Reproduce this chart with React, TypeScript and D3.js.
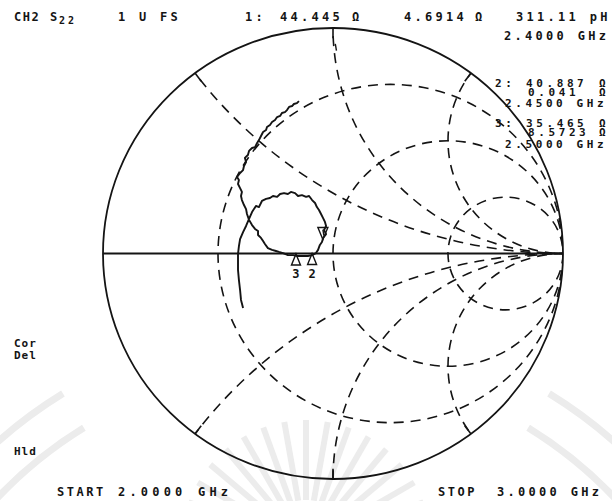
import React, { useEffect, useRef } from "react";
import * as d3 from "d3";

// grid of the smith chart (normalised)
const resistanceCircles = [1 / 3, 1, 3];
const reactanceArcs = [0.5, 1, 2, -0.5, -1, -2];

// S22 trace, reflection coefficient (2 GHz -> 3 GHz)
const traceRe = [
  -0.391, -0.4, -0.404, -0.409, -0.413, -0.413, -0.413, -0.409, -0.404, -0.391, -0.378, -0.365,
  -0.352, -0.335, -0.322, -0.309, -0.291, -0.274, -0.261, -0.243, -0.23, -0.213, -0.196, -0.183,
  -0.165, -0.152, -0.135, -0.117, -0.104, -0.091, -0.078, -0.07, -0.061, -0.052, -0.043, -0.035,
  -0.03, -0.039, -0.03, -0.043, -0.048, -0.057, -0.065, -0.074, -0.091, -0.109, -0.13, -0.152,
  -0.174, -0.196, -0.217, -0.235, -0.248, -0.265, -0.283, -0.296, -0.304, -0.313, -0.326, -0.326,
  -0.339, -0.352, -0.365,
  -0.374, -0.378, -0.387, -0.396, -0.4, -0.396, -0.404, -0.413, -0.409, -0.417, -0.404, -0.391,
  -0.387, -0.378, -0.383, -0.37, -0.365, -0.352, -0.339, -0.33, -0.322, -0.313, -0.304, -0.291,
  -0.287, -0.274, -0.265, -0.252, -0.243, -0.23, -0.222, -0.209, -0.2, -0.191, -0.178, -0.17,
  -0.157, -0.148,
];
const traceIm = [
  -0.242, -0.206, -0.162, -0.118, -0.073, -0.038, -0.002, 0.033, 0.064, 0.095, 0.122, 0.153,
  0.184, 0.211, 0.206, 0.233, 0.242, 0.246, 0.255, 0.251, 0.264, 0.268, 0.264, 0.273,
  0.268, 0.255, 0.259, 0.251, 0.255, 0.237, 0.224, 0.206, 0.193, 0.175, 0.157, 0.14,
  0.122, 0.104, 0.086, 0.069, 0.051, 0.038, 0.016, 0.002, -0.007, -0.011, -0.011, -0.011,
  -0.007, -0.007, 0.002, 0.007, 0.011, 0.016, 0.024, 0.042, 0.055, 0.069, 0.082, 0.1,
  0.109, 0.126, 0.149,
  0.175, 0.197, 0.215, 0.237, 0.255, 0.273, 0.29, 0.308, 0.326, 0.339, 0.357, 0.37,
  0.388, 0.406, 0.424, 0.437, 0.455, 0.468, 0.472, 0.49, 0.503, 0.521, 0.539, 0.548,
  0.561, 0.57, 0.583, 0.592, 0.605, 0.61, 0.623, 0.627, 0.636, 0.65, 0.654, 0.663,
  0.667, 0.676,
];

const markerNames = ["1", "2", "3"];
const markerRe = [-0.044, -0.091, -0.161];
const markerIm = [0.062, 0.0, -0.002];

const App: React.FC = () => {
  const svgRef: any = useRef();

  useEffect(() => {
    const svg = d3.select(svgRef.current);
    svg.selectAll("*").remove();

    const x = d3.scaleLinear().domain([-1, 1]).range([103, 563]);
    const y = d3.scaleLinear().domain([-1, 1]).range([479, 28]);
    const rx = (r: number) => x(r) - x(0);
    const ry = (r: number) => y(0) - y(r);
    const ink = "#141414";

    svg.append("rect").attr("width", 612).attr("height", 501).attr("fill", "#fff");

    // faint watermark behind everything
    const wm = svg.append("g").attr("fill", "none").attr("stroke", "#ececec");
    [465, 425].forEach((R) => {
      [[-1.1, -0.55], [0.55, 1.1]].forEach(([a0, a1]) => {
        wm.append("path")
          .attr("d", d3.arc()({ innerRadius: R, outerRadius: R, startAngle: a0, endAngle: a1 }) as any)
          .attr("transform", "translate(306,790)")
          .attr("stroke-width", 7);
      });
    });
    d3.range(-70, 71, 10).forEach((a) => {
      const t = (a * Math.PI) / 180;
      wm.append("line")
        .attr("x1", 306 + Math.sin(t) * 45)
        .attr("y1", 545 - Math.cos(t) * 45)
        .attr("x2", 306 + Math.sin(t) * 125)
        .attr("y2", 545 - Math.cos(t) * 125)
        .attr("stroke-width", 6);
    });

    svg.append("clipPath")
      .attr("id", "smith-clip")
      .append("ellipse")
      .attr("cx", x(0))
      .attr("cy", y(0))
      .attr("rx", rx(1))
      .attr("ry", ry(1));

    const grid = svg.append("g")
      .attr("clip-path", "url(#smith-clip)")
      .attr("fill", "none")
      .attr("stroke", ink)
      .attr("stroke-width", 1.6)
      .attr("stroke-dasharray", "10,7");

    resistanceCircles.forEach((r) => {
      grid.append("ellipse")
        .attr("cx", x(r / (1 + r)))
        .attr("cy", y(0))
        .attr("rx", rx(1 / (1 + r)))
        .attr("ry", ry(1 / (1 + r)));
    });

    reactanceArcs.forEach((v) => {
      grid.append("ellipse")
        .attr("cx", x(1))
        .attr("cy", y(1 / v))
        .attr("rx", rx(1 / Math.abs(v)))
        .attr("ry", ry(1 / Math.abs(v)));
    });

    // outer circle + real axis
    svg.append("ellipse")
      .attr("cx", x(0))
      .attr("cy", y(0))
      .attr("rx", rx(1))
      .attr("ry", ry(1))
      .attr("fill", "none")
      .attr("stroke", ink)
      .attr("stroke-width", 1.8);

    svg.append("line")
      .attr("x1", x(-1))
      .attr("x2", x(1))
      .attr("y1", y(0))
      .attr("y2", y(0))
      .attr("stroke", ink)
      .attr("stroke-width", 1.8);

    // small ticks where the reactance arcs hit the rim
    reactanceArcs.forEach((v) => {
      const gr = (v * v - 1) / (v * v + 1);
      const gi = (2 * v) / (v * v + 1);
      svg.append("line")
        .attr("x1", x(gr))
        .attr("y1", y(gi))
        .attr("x2", x(gr * 0.955))
        .attr("y2", y(gi * 0.955))
        .attr("stroke", ink)
        .attr("stroke-width", 1.6);
    });
    svg.append("line")
      .attr("x1", x(0.01)).attr("y1", y(0.93))
      .attr("x2", x(0.015)).attr("y2", y(0.9))
      .attr("stroke", ink).attr("stroke-width", 1.4);

    const line: any = d3
      .line()
      .x((d: any) => x(d[0]))
      .y((d: any) => y(d[1]))
      .curve(d3.curveLinear);

    svg.append("path")
      .datum(traceRe.map((r, i) => [r, traceIm[i]]))
      .attr("fill", "none")
      .attr("stroke", ink)
      .attr("stroke-width", 1.9)
      .attr("stroke-linejoin", "round")
      .attr("d", line);

    // markers
    markerNames.forEach((name, i) => {
      const px = x(markerRe[i]);
      const py = y(markerIm[i]);
      if (i === 0) {
        svg.append("path")
          .attr("d", `M${px},${py} L${px - 5},${py - 12} L${px + 5},${py - 12} Z`)
          .attr("fill", "none")
          .attr("stroke", ink)
          .attr("stroke-width", 1.4);
        svg.append("line")
          .attr("x1", px).attr("x2", px + 1)
          .attr("y1", py - 10).attr("y2", py - 4)
          .attr("stroke", ink).attr("stroke-width", 1.4);
      } else {
        svg.append("path")
          .attr("d", `M${px},${py} L${px - 4.5},${py + 11} L${px + 4.5},${py + 11} Z`)
          .attr("fill", "none")
          .attr("stroke", ink)
          .attr("stroke-width", 1.4);
        svg.append("text")
          .attr("x", px)
          .attr("y", py + 24)
          .attr("text-anchor", "middle")
          .attr("font-family", "DejaVu Sans Mono")
          .attr("font-weight", "bold")
          .attr("font-size", 12)
          .attr("fill", ink)
          .text(name);
      }
    });

    // annotation text
    const label = (txt: string, tx: number, ty: number, size = 12, spacing = 3.3) =>
      svg.append("text")
        .attr("x", tx)
        .attr("y", ty)
        .attr("font-family", "DejaVu Sans Mono")
        .attr("font-weight", "bold")
        .attr("font-size", size)
        .attr("letter-spacing", spacing)
        .attr("fill", ink)
        .text(txt);

    label("CH2", 14, 21, 12, 1.5);
    label("S", 50, 21);
    label("22", 59, 24, 10, 3);
    label("1 U FS", 118, 21);
    label("1:", 245, 21);
    label("44.445", 280, 21);
    label("Ω", 352, 21, 12, 0);
    label("4.6914", 404, 21);
    label("Ω", 475, 21, 12, 0);
    label("311.11 pH", 516, 21);
    label("2.4000 GHz", 504, 40);

    label("2:", 495, 87, 11, 3.6);
    label("40.887", 526, 87, 11, 3.6);
    label("Ω", 599, 87, 11, 0);
    label("0.041", 528, 96, 11, 3.6);
    label("Ω", 599, 96, 11, 0);
    label("2.4500 GHz", 505, 107, 11, 3.6);
    label("3:", 495, 127, 11, 3.6);
    label("35.465", 526, 127, 11, 3.6);
    label("Ω", 599, 127, 11, 0);
    label("8.5723", 528, 136, 11, 3.6);
    label("Ω", 599, 136, 11, 0);
    label("2.5000 GHz", 505, 148, 11, 3.6);

    label("Cor", 14, 347, 11, 1);
    label("Del", 14, 359, 11, 1);
    label("Hld", 14, 455, 11, 1);

    label("START", 57, 496, 12, 2.5);
    label("2.0000 GHz", 118, 496, 12, 4.2);
    label("STOP", 438, 496, 12, 2.5);
    label("3.0000 GHz", 497, 496, 12, 3.3);
  }, []);

  return (
    <svg
      ref={svgRef}
      width={612}
      height={501}
      style={{ position: "absolute", left: 0, top: 0 }}
    />
  );
};

export default App;
